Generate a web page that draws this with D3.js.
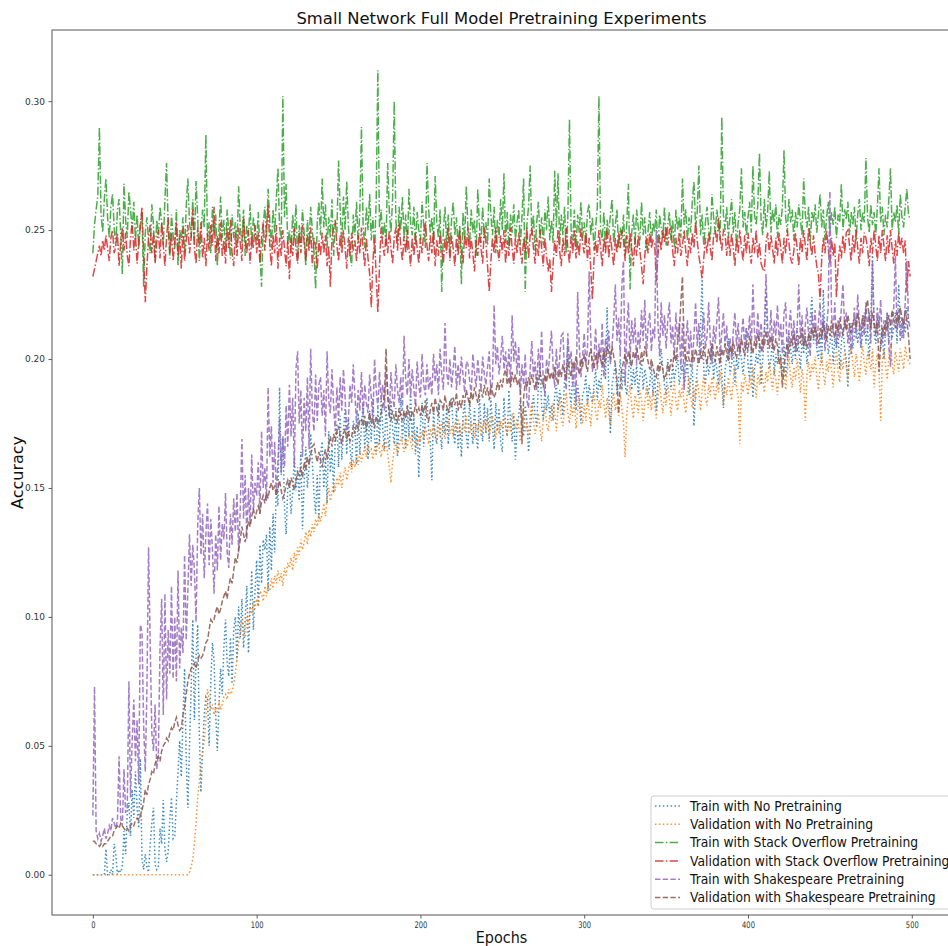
<!DOCTYPE html>
<html>
<head>
<meta charset="utf-8">
<script src="https://cdn.jsdelivr.net/npm/d3@7"></script>
<style>
  html, body { margin: 0; padding: 0; background: #fff; }
  svg { display: block; font-family: "DejaVu Sans", sans-serif; }
</style>
</head>
<body>
<div id="chart"></div>
<script>
// accuracy values in thousandths, one per epoch (0..499)
const trainNoPre = [
  0,0,0,0,0,0,0,0,10,0,0,2,0,12,8,0,2,1,3,17,
  8,24,28,15,33,22,40,26,18,45,6,2,8,3,1,12,20,26,4,2,
  3,18,12,29,10,5,9,22,30,14,15,28,40,52,38,60,80,45,26,50,
  72,99,60,85,97,55,32,48,62,69,68,50,75,90,83,62,48,66,80,70,
  88,99,82,77,92,74,95,100,83,104,92,107,88,99,112,86,103,118,95,110,
  122,104,128,113,130,126,132,110,135,118,140,125,150,143,189,155,170,143,132,150,
  153,140,148,162,149,158,145,164,134,152,166,150,158,171,160,148,140,155,137,163,
  168,150,162,144,172,156,165,148,170,175,158,178,161,172,181,163,177,166,158,176,
  173,159,179,163,174,183,165,176,161,180,168,185,170,163,181,167,185,173,165,182,
  170,165,184,173,167,181,162,177,185,168,179,165,182,170,187,168,178,163,174,154,
  174,183,166,178,185,172,168,153,181,170,167,183,172,165,179,171,181,167,183,185,
  173,167,181,165,175,162,178,183,170,165,185,173,167,181,170,165,187,174,168,183,
  171,181,168,185,174,165,183,172,181,168,164,185,174,170,188,176,168,179,161,174,
  178,184,176,170,182,176,164,172,180,186,178,174,190,198,182,176,188,180,186,178,
  182,176,186,190,180,188,184,178,192,196,206,188,182,194,186,180,190,184,175,186,
  188,194,182,190,186,183,190,196,184,192,188,198,204,192,220,186,171,190,194,198,
  186,192,200,188,196,190,186,194,202,188,196,190,198,186,194,200,188,196,192,186,
  190,198,186,194,180,192,198,204,196,190,186,200,194,188,198,192,196,202,190,194,
  198,190,194,200,186,192,198,174,188,196,202,212,231,196,190,200,194,198,206,192,
  200,196,190,204,194,181,196,200,208,194,198,204,190,200,196,206,200,194,202,212,
  198,192,204,185,196,202,198,206,190,200,210,227,204,196,200,208,194,202,198,206,
  200,194,206,193,198,210,204,198,206,200,212,204,196,208,202,210,198,204,216,224,
  206,212,204,200,210,198,227,208,214,202,206,212,198,208,204,210,196,206,212,204,
  200,189,208,214,204,210,216,206,212,204,210,218,206,212,200,214,241,210,206,212,
  216,204,210,200,212,218,206,214,208,212,218,206,229,214,208,216,210,220,214,214
];
const valNoPre = [
  0,0,0,0,0,0,0,0,0,0,0,0,0,0,0,0,0,0,0,0,
  0,0,0,0,0,0,0,0,0,0,0,0,0,0,0,0,0,0,0,0,
  0,0,0,0,0,0,0,0,0,0,0,0,0,0,0,0,0,0,0,1,
  3,6,12,20,30,36,42,47,52,60,72,68,64,66,62,65,63,67,64,66,
  69,70,68,72,70,71,74,78,84,90,93,99,96,92,100,97,104,101,106,103,
  107,104,110,109,106,112,108,113,110,115,111,116,113,118,114,117,112,119,116,121,
  119,123,118,125,121,127,124,130,126,129,133,128,134,131,136,133,138,135,140,137,
  140,144,139,146,150,145,148,152,149,154,151,156,150,155,158,153,157,160,156,161,
  158,162,159,164,160,163,166,162,167,164,165,161,166,163,168,165,162,167,164,169,
  163,158,152,160,165,168,163,166,170,167,164,169,166,171,168,165,172,169,166,170,
  168,172,169,174,170,167,173,170,175,171,168,174,170,176,172,169,173,177,171,174,
  170,175,172,177,173,170,176,172,178,174,171,176,173,169,175,172,177,170,174,176,
  172,177,170,174,178,173,169,175,171,176,173,178,174,170,176,172,179,175,173,177,
  174,168,177,181,172,175,170,178,183,176,171,174,179,173,168,177,182,175,172,178,
  176,183,179,172,180,185,177,174,181,187,179,175,182,178,184,173,180,186,178,175,
  182,176,185,180,174,183,188,179,176,184,181,190,183,177,185,179,174,182,187,180,
  184,178,186,181,175,162,179,185,190,182,177,186,183,179,188,184,176,183,189,181,
  186,180,188,183,177,185,191,184,179,187,182,190,185,178,186,192,183,180,188,185,
  190,183,179,187,193,186,181,189,184,192,187,180,188,194,185,182,190,186,193,188,
  184,191,187,195,189,182,190,186,193,188,184,192,197,189,185,167,191,187,194,190,
  186,193,189,197,191,185,194,190,198,192,187,195,191,199,193,188,196,192,186,194,
  199,191,196,188,195,201,193,189,197,192,200,194,187,196,191,176,194,199,192,198,
  195,201,193,188,197,203,194,190,199,195,202,196,189,198,204,195,191,200,196,203,
  197,192,201,206,198,193,202,197,191,200,205,198,194,203,199,196,204,189,198,202,
  196,176,199,204,197,192,201,206,198,194,203,199,195,204,200,196,205,201,199,198
];
const trainStack = [
  241,252,258,263,290,256,249,262,270,255,247,259,264,251,244,258,262,249,233,268,
  254,247,265,258,250,261,246,256,243,252,257,228,249,255,246,241,260,252,238,254,
  248,259,253,244,262,276,251,239,256,248,243,258,236,250,246,255,241,259,270,253,
  247,262,244,269,255,238,249,258,251,287,246,253,241,259,248,256,236,250,263,247,
  254,242,258,249,239,256,247,253,244,267,251,245,258,240,252,248,260,243,255,250,
  246,257,241,228,252,259,247,266,254,243,258,249,262,274,251,246,302,255,268,244,
  250,241,256,247,260,238,252,245,258,249,236,254,244,259,250,242,227,253,261,248,
  270,251,260,243,255,247,262,240,253,249,277,258,244,263,250,269,252,241,236,256,
  248,261,245,257,290,252,243,259,250,264,246,255,241,262,312,251,258,247,253,244,
  276,257,249,262,300,254,245,259,250,263,247,256,242,266,253,248,259,244,257,250,
  246,261,252,243,276,258,249,255,244,271,253,247,258,226,250,259,245,256,241,254,
  261,248,255,243,252,229,257,246,267,251,244,258,249,254,240,266,252,245,259,247,
  253,244,270,256,248,259,241,254,247,262,250,272,245,257,243,256,249,260,246,253,
  258,244,255,270,226,252,259,275,248,256,242,253,261,247,255,244,258,250,263,246,
  254,245,273,251,272,244,256,248,259,241,255,293,250,246,258,243,256,249,261,247,
  253,244,257,260,248,255,242,251,259,302,250,246,257,243,254,248,256,262,245,252,
  258,243,251,247,256,240,253,268,227,249,256,244,258,251,246,261,248,255,242,250,
  257,245,253,249,258,241,256,251,247,259,244,252,257,246,254,243,258,250,255,247,
  270,252,258,246,255,249,261,269,251,257,275,248,256,244,253,259,250,246,264,255,
  249,258,252,246,294,256,250,259,247,255,262,249,257,244,253,258,274,251,257,248,
  255,261,249,275,256,252,260,280,254,248,262,251,257,273,249,258,253,260,247,256,
  252,259,281,255,249,262,253,258,246,257,251,260,254,248,270,256,251,259,245,257,
  253,260,249,256,264,251,258,246,255,261,249,257,252,259,247,256,253,268,250,258,
  254,261,248,257,252,259,246,256,262,250,257,253,278,255,249,260,252,257,248,259,
  274,253,259,248,256,251,262,274,250,257,253,260,248,264,255,251,259,266,256,254
];
const valStack = [
  232,235,238,241,244,240,246,242,248,243,238,247,250,241,244,249,236,245,251,242,
  249,240,236,247,253,242,248,237,245,252,259,240,222,236,247,252,241,249,237,245,
  250,239,253,244,236,247,255,241,249,238,245,253,240,248,235,251,238,246,252,241,
  247,258,243,237,251,244,253,239,247,236,249,242,252,244,259,238,248,241,253,240,
  246,237,251,243,254,241,236,249,240,251,245,238,255,246,241,250,237,248,243,252,
  241,249,237,247,253,242,250,260,244,236,248,241,252,235,247,240,250,243,236,246,
  231,247,240,251,243,237,249,241,252,245,238,248,242,251,236,247,244,235,246,240,
  249,241,248,236,244,228,247,251,254,244,238,248,241,250,243,235,247,240,249,242,
  246,238,248,241,251,243,236,247,239,233,220,238,247,232,218,236,251,244,240,248,
  241,250,243,237,247,251,242,253,244,238,248,241,250,243,236,247,240,249,243,237,
  247,241,249,253,244,238,248,241,250,236,246,240,249,243,237,247,241,251,238,248,
  243,236,247,240,250,242,237,248,243,251,239,247,241,234,246,240,249,243,237,251,
  245,236,226,238,247,241,251,243,238,248,241,250,237,246,240,251,243,237,247,241,
  249,242,237,247,241,251,239,248,251,243,237,247,240,250,243,236,247,240,234,239,
  226,237,246,240,250,242,236,247,240,251,243,237,248,241,250,239,246,240,251,245,
  241,249,238,247,235,223,239,246,240,250,243,236,247,241,251,239,248,242,236,247,
  241,249,243,250,246,238,248,241,249,243,236,247,240,248,242,236,229,240,247,241,
  249,243,246,245,230,240,248,242,250,245,251,244,250,251,242,236,247,241,249,240,
  244,250,242,236,247,241,249,243,253,246,240,236,231,239,247,241,249,243,238,248,
  250,245,255,247,242,250,249,240,248,240,249,243,236,247,241,250,243,238,248,241,
  249,242,237,247,241,250,239,245,237,235,234,245,249,241,248,243,237,247,240,249,
  243,237,247,241,250,245,239,237,242,249,243,236,247,241,250,244,238,251,245,240,
  248,241,236,233,223,239,247,241,250,243,237,247,240,245,224,236,244,239,248,241,
  249,250,244,238,248,241,250,243,237,247,241,249,247,243,236,247,241,250,244,238,
  248,241,250,244,238,248,241,250,243,237,246,240,249,243,247,241,246,226,238,232
];
const trainShake = [
  23,73,17,14,16,13,15,18,14,16,19,17,22,20,18,21,46,22,19,41,
  24,26,75,30,52,68,44,60,35,97,94,58,40,72,127,90,55,48,66,41,
  47,88,107,62,109,68,95,78,112,76,100,75,118,80,96,86,124,91,110,132,
  112,128,118,98,135,150,124,140,115,132,144,120,138,126,109,132,118,143,122,136,
  130,148,125,119,140,128,146,133,148,125,142,169,138,155,130,150,136,163,141,152,
  147,160,140,172,150,158,145,189,162,174,152,168,148,160,177,156,170,158,182,166,
  190,170,185,158,196,203,175,188,162,185,172,193,165,204,180,172,194,176,190,193,
  178,188,170,203,184,179,196,182,172,189,176,193,180,196,185,172,176,190,183,198,
  186,175,188,180,195,178,190,183,179,194,185,177,200,188,181,195,184,190,180,196,
  187,178,195,185,181,198,188,183,193,180,209,192,186,200,185,196,188,182,199,190,
  185,202,190,186,198,188,193,186,202,191,198,186,204,194,188,214,195,190,200,189,
  196,205,188,198,190,201,194,187,199,198,192,186,202,195,189,200,193,188,201,194,
  190,197,203,186,191,221,198,205,194,200,209,196,203,193,204,190,217,199,207,194,
  205,186,198,190,202,184,181,196,207,193,199,188,204,195,211,192,186,200,194,203,
  211,197,189,204,193,200,209,210,195,188,210,198,203,190,199,183,226,205,193,201,
  210,198,204,234,208,195,201,212,196,206,199,214,193,208,203,211,198,205,215,229,
  207,216,201,229,238,190,212,222,200,215,206,216,198,211,204,219,207,223,201,213,
  218,203,212,208,250,214,201,222,209,217,204,215,222,206,213,200,218,207,214,196,
  214,188,206,215,202,211,198,209,222,205,214,200,211,218,204,209,222,207,198,213,
  206,215,224,201,210,218,205,213,200,208,200,211,218,205,214,202,209,216,204,212,
  208,217,203,229,210,205,218,207,214,203,211,233,212,206,219,204,215,209,221,207,
  214,202,218,222,200,212,219,206,215,203,212,229,208,217,205,213,220,209,201,218,
  210,219,205,214,222,208,217,203,212,220,265,218,210,222,205,215,208,220,229,212,
  218,206,214,202,211,220,208,225,213,205,216,209,222,211,218,206,238,214,209,220,
  212,223,206,215,209,218,205,197,214,220,240,211,219,207,216,208,222,238,215,212
];
const valShake = [
  13,13,12,12,11,12,11,12,12,13,14,15,15,17,18,19,18,20,19,18,
  17,18,17,19,20,19,21,22,21,23,25,28,33,31,35,37,40,39,43,45,
  46,44,48,50,51,53,52,55,57,56,59,61,58,56,57,62,65,70,75,78,
  80,81,82,80,83,85,84,85,87,90,91,95,99,98,99,102,104,101,103,106,
  108,110,107,112,115,113,118,123,121,126,130,135,132,129,134,137,135,139,142,138,
  141,143,140,145,147,144,148,146,150,152,149,151,147,150,153,149,146,148,151,153,
  150,154,152,149,153,156,155,158,154,160,157,162,159,163,166,167,163,160,164,161,
  158,162,165,161,167,170,166,171,168,172,174,170,167,171,173,169,172,168,170,174,
  171,175,173,176,177,174,178,172,176,179,175,177,173,178,175,176,179,182,185,204,
  186,178,176,180,177,179,175,181,178,176,180,177,182,179,176,180,178,183,179,181,
  178,182,179,184,177,176,180,183,179,185,181,178,184,183,180,186,182,179,184,181,
  185,182,187,180,184,181,186,183,188,185,182,187,184,189,186,183,188,188,185,190,
  186,189,184,190,187,185,187,191,188,192,189,194,196,190,193,189,195,191,194,190,
  192,188,167,185,191,189,193,190,194,191,188,193,190,195,192,189,194,191,196,192,
  195,192,197,193,190,196,193,198,195,192,200,196,193,199,196,201,197,194,200,197,
  202,198,195,201,204,199,196,202,198,203,200,197,203,199,204,203,200,205,201,198,
  192,179,190,196,199,202,198,203,200,197,203,200,204,201,198,203,199,205,202,199,
  196,200,197,194,193,198,195,199,196,192,194,198,195,200,197,203,199,206,210,222,
  232,205,199,203,200,197,202,199,204,201,198,203,200,205,201,198,204,200,206,202,
  199,205,201,198,204,201,206,202,199,205,202,207,203,200,206,203,208,204,201,207,
  203,209,205,202,207,204,210,206,203,208,205,211,207,204,209,206,203,208,205,198,
  201,189,197,203,206,202,208,205,210,206,203,209,206,212,205,208,204,210,207,212,
  208,213,209,206,212,208,214,210,207,213,209,215,211,208,214,210,216,212,209,215,
  211,217,213,210,214,216,212,218,214,211,217,213,219,223,216,212,218,214,210,216,
  195,206,212,209,215,211,217,213,219,215,212,218,214,220,216,213,219,215,209,200
];

const seriesLabels = [
  'Train with No Pretraining',
  'Validation with No Pretraining',
  'Train with Stack Overflow Pretraining',
  'Validation with Stack Overflow Pretraining',
  'Train with Shakespeare Pretraining',
  'Validation with Shakespeare Pretraining'
];
const xTicks = [0, 100, 200, 300, 400, 500];
const yTicks = [0, 0.05, 0.10, 0.15, 0.20, 0.25, 0.30];

const colors = ['#1f77b4', '#ff7f0e', '#2ca02c', '#d62728', '#9467bd', '#8c564b'];
const dashes = ['1.5,2.4', '1.5,2.4', '8.5,2.3,1.5,2.3', '8.5,2.3,1.5,2.3', '5.4,2.3', '5.4,2.3'];
const series = [trainNoPre, valNoPre, trainStack, valStack, trainShake, valShake]
  .map((vals, i) => ({ label: seriesLabels[i], values: vals, color: colors[i], dash: dashes[i] }));

const W = 948, H = 946;
const box = { left: 52, right: 951, top: 30, bottom: 915 };

const svg = d3.select('#chart').append('svg')
  .attr('width', W)
  .attr('height', H);

const x = d3.scaleLinear().domain([-24.95, 523.95]).range([box.left, box.right]);
const y = d3.scaleLinear().domain([-0.0156, 0.3276]).range([box.bottom, box.top]);

svg.append('defs').append('clipPath').attr('id', 'plotClip')
  .append('rect')
  .attr('x', box.left).attr('y', box.top)
  .attr('width', box.right - box.left).attr('height', box.bottom - box.top);

// lines
const line = d3.line()
  .x((d, i) => x(i))
  .y(d => y(d / 1000));

const plot = svg.append('g').attr('clip-path', 'url(#plotClip)');
series.forEach(s => {
  plot.append('path')
    .attr('d', line(s.values))
    .attr('fill', 'none')
    .attr('stroke', s.color)
    .attr('stroke-width', 1.5)
    .attr('stroke-opacity', 0.85)
    .attr('stroke-dasharray', s.dash);
});

// axes
const yAxis = svg.append('g')
  .attr('transform', `translate(${box.left},0)`)
  .call(d3.axisLeft(y).tickValues(yTicks).tickFormat(d3.format('.2f')).tickSize(3.5).tickPadding(3.5));
const xAxis = svg.append('g')
  .attr('transform', `translate(0,${box.bottom})`)
  .call(d3.axisBottom(x).tickValues(xTicks).tickFormat(d3.format('d')).tickSize(3.5).tickPadding(3));

[xAxis, yAxis].forEach(ax => {
  ax.select('.domain').remove();
  ax.selectAll('.tick line').attr('stroke', '#333').attr('stroke-width', 0.8);
  ax.selectAll('.tick text')
    .attr('fill', '#333')
    .style('font-family', '"DejaVu Sans", sans-serif')
    .style('font-size', '9px');
});
// x tick labels are drawn narrow in the reference
xAxis.selectAll('.tick text').attr('transform', 'scale(0.75,1)');

// frame
svg.append('rect')
  .attr('x', box.left).attr('y', box.top)
  .attr('width', box.right - box.left).attr('height', box.bottom - box.top)
  .attr('fill', 'none')
  .attr('stroke', '#555')
  .attr('stroke-width', 1);

// title and axis labels
svg.append('text')
  .attr('x', (box.left + box.right) / 2).attr('y', 24)
  .attr('text-anchor', 'middle')
  .style('font-size', '16.4px')
  .attr('fill', '#111')
  .text('Small Network Full Model Pretraining Experiments');

const cx = (box.left + box.right) / 2;
svg.append('text')
  .attr('transform', `translate(${cx},943) scale(0.9,1)`)
  .attr('text-anchor', 'middle')
  .style('font-size', '16px')
  .attr('fill', '#111')
  .text('Epochs');

svg.append('text')
  .attr('transform', `translate(23,${(box.top + box.bottom) / 2}) rotate(-90)`)
  .attr('text-anchor', 'middle')
  .style('font-size', '16px')
  .attr('fill', '#111')
  .text('Accuracy');

// legend
const legend = svg.append('g');
legend.append('rect')
  .attr('x', 651).attr('y', 796)
  .attr('width', 320).attr('height', 113)
  .attr('rx', 3)
  .attr('fill', '#fff').attr('fill-opacity', 0.8)
  .attr('stroke', '#ccc').attr('stroke-width', 1);
series.forEach((s, i) => {
  const ly = 806 + i * 18.3;
  legend.append('line')
    .attr('x1', 655).attr('x2', 680)
    .attr('y1', ly).attr('y2', ly)
    .attr('stroke', s.color)
    .attr('stroke-width', 1.5)
    .attr('stroke-opacity', 0.85)
    .attr('stroke-dasharray', s.dash);
  legend.append('text')
    .attr('transform', `translate(690,${ly + 4.8}) scale(0.915,1)`)
    .style('font-size', '13.5px')
    .attr('fill', '#111')
    .text(s.label);
});
</script>
</body>
</html>
